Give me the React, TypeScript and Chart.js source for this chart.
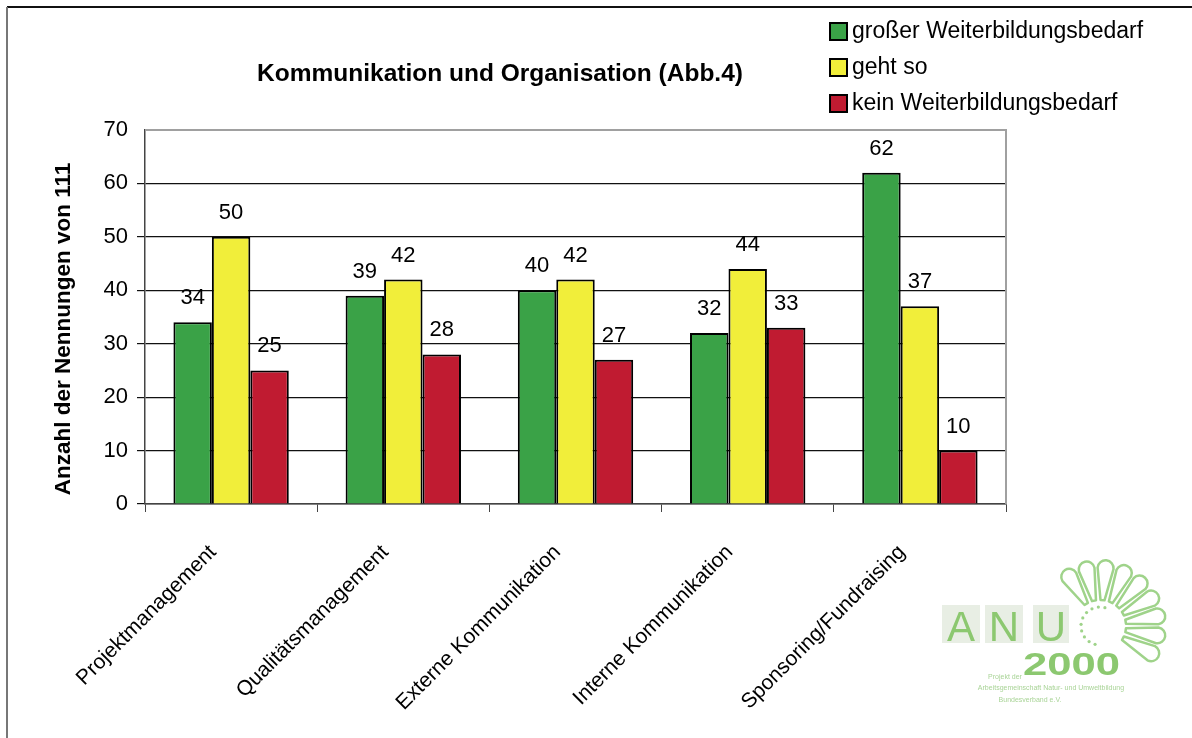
import React, { useEffect, useRef } from "react";
import { Chart, registerables } from "chart.js";

Chart.register(...registerables);

const categories = [
  "Projektmanagement",
  "Qualitätsmanagement",
  "Externe Kommunikation",
  "Interne Kommunikation",
  "Sponsoring/Fundraising",
];
const seriesNames = ["großer Weiterbildungsbedarf", "geht so", "kein Weiterbildungsbedarf"];
const grosserBedarf = [34, 39, 40, 32, 62];
const gehtSo = [50, 42, 42, 44, 37];
const keinBedarf = [25, 28, 27, 33, 10];
const seriesColors = ["#3AA247", "#F1EE3A", "#C01B31"];
const yMin = 0;
const yMax = 70;
const yStep = 10;
const chartTitle = "Kommunikation und Organisation (Abb.4)";
const yAxisTitle = "Anzahl der Nennungen von 111";

const FONT = '"Liberation Sans", Arial, sans-serif';

const decorPlugin = {
  id: "decor",
  afterDatasetsDraw(chart: any) {
    const ctx = chart.ctx as CanvasRenderingContext2D;
    const { left, right, top, bottom } = chart.chartArea;
    ctx.save();
    // plot frame (top, right)
    ctx.strokeStyle = "#a0a0a0";
    ctx.lineWidth = 2;
    ctx.beginPath();
    ctx.moveTo(left, top);
    ctx.lineTo(right, top);
    ctx.lineTo(right, bottom);
    ctx.stroke();

    // data labels
    ctx.fillStyle = "#000";
    ctx.font = `22px ${FONT}`;
    ctx.textAlign = "center";
    ctx.textBaseline = "bottom";
    chart.data.datasets.forEach((ds: any, i: number) => {
      const meta = chart.getDatasetMeta(i);
      meta.data.forEach((bar: any, j: number) => {
        ctx.fillText(String(ds.data[j]), bar.x, bar.y - 13);
      });
    });

    // title
    ctx.font = `bold 24.5px ${FONT}`;
    ctx.textBaseline = "middle";
    ctx.fillText(chartTitle, 500, 74);

    // y axis title
    ctx.save();
    ctx.translate(64, (top + bottom) / 2 + 12);
    ctx.rotate(-Math.PI / 2);
    ctx.font = `bold 22.5px ${FONT}`;
    ctx.fillText(yAxisTitle, 0, 0);
    ctx.restore();

    // legend
    const legendY = [31, 67, 103];
    ctx.textAlign = "left";
    ctx.font = `23px ${FONT}`;
    chart.data.datasets.forEach((ds: any, i: number) => {
      const cy = legendY[i];
      ctx.fillStyle = ds.backgroundColor;
      ctx.fillRect(830, cy - 8, 17, 17);
      ctx.strokeStyle = "#000";
      ctx.lineWidth = 2;
      ctx.strokeRect(830, cy - 8, 17, 17);
      ctx.fillStyle = "#000";
      ctx.fillText(ds.label, 852, cy + 1);
    });

    // outer border
    ctx.lineWidth = 2;
    ctx.strokeStyle = "#111";
    ctx.beginPath();
    ctx.moveTo(7, 7);
    ctx.lineTo(1192, 7);
    ctx.stroke();
    ctx.strokeStyle = "#777";
    ctx.beginPath();
    ctx.moveTo(7, 7);
    ctx.lineTo(7, 738);
    ctx.stroke();
    ctx.restore();
  },
};

function Logo() {
  const cx = 1100;
  const cy = 626;
  const petals: JSX.Element[] = [];
  const n = 9;
  for (let i = 0; i < n; i++) {
    const a = -122 + (i * 150) / (n - 1);
    petals.push(
      <path
        key={i}
        d="M 26 -2 L 58 -8 A 8 8 0 0 1 58 8 L 26 2 Z"
        transform={`translate(${cx},${cy}) rotate(${a})`}
        fill="none"
        stroke="#9fd38a"
        strokeWidth={2.5}
        strokeLinejoin="round"
      />
    );
  }
  const dots: JSX.Element[] = [];
  for (let i = 0; i < 10; i++) {
    const a = ((105 + i * 20) * Math.PI) / 180;
    dots.push(<circle key={i} cx={cx + 19 * Math.cos(a)} cy={cy + 19 * Math.sin(a)} r={1.6} fill="#9fd38a" />);
  }
  return (
    <svg width={1192} height={738} style={{ position: "absolute", left: 0, top: 0, pointerEvents: "none" }}>
      <rect x={942} y={605} width={38} height={38} fill="#e8eee4" />
      <rect x={985} y={605} width={38} height={38} fill="#e8eee4" />
      <rect x={1033} y={605} width={36} height={38} fill="#e8eee4" />
      <g fill="#8cc870" fontFamily={FONT} fontSize={42} textAnchor="middle">
        <text x={961} y={641}>A</text>
        <text x={1004} y={641}>N</text>
        <text x={1051} y={641}>U</text>
      </g>
      {petals}
      {dots}
      <text x={1023} y={675} fill="#8cc870" fontFamily={FONT} fontWeight="bold" fontSize={32} textLength={97} lengthAdjust="spacingAndGlyphs">
        2000
      </text>
      <g fill="#a9d497" fontFamily={FONT} fontSize={7} textAnchor="middle">
        <text x={1005} y={679}>Projekt der</text>
        <text x={1051} y={690}>Arbeitsgemeinschaft Natur- und Umweltbildung</text>
        <text x={1030} y={702}>Bundesverband e.V.</text>
      </g>
    </svg>
  );
}

export default function App() {
  const ref = useRef<HTMLCanvasElement | null>(null);
  useEffect(() => {
    document.body.style.margin = "0";
    const canvas = ref.current;
    if (!canvas) return;
    const datasets = [grosserBedarf, gehtSo, keinBedarf].map((d, i) => ({
      label: seriesNames[i],
      data: d,
      backgroundColor: seriesColors[i],
      borderColor: "#000",
      borderWidth: 2,
      categoryPercentage: 0.67,
      barPercentage: 1.0,
    }));
    const chart = new Chart(canvas, {
      type: "bar",
      data: { labels: categories, datasets },
      options: {
        responsive: false,
        animation: false,
        layout: { padding: { top: 130, right: 186, left: 8, bottom: 0 } },
        plugins: { legend: { display: false }, title: { display: false }, tooltip: { enabled: false } },
        scales: {
          x: {
            grid: { drawOnChartArea: false, drawTicks: true, tickLength: 8, color: "#444", offset: true },
            border: { color: "#444", width: 1.5 },
            ticks: {
              color: "#000",
              font: { family: FONT, size: 21 },
              minRotation: 45,
              maxRotation: 45,
              autoSkip: false,
              padding: 28,
              labelOffset: -18,
            },
            afterFit: (scale: any) => {
              scale.height = 234;
            },
          },
          y: {
            min: yMin,
            max: yMax,
            ticks: { stepSize: yStep, color: "#000", font: { family: FONT, size: 22 }, padding: 9 },
            grid: {
              color: (c: any) => (c.tick && c.tick.value === yMax ? "rgba(0,0,0,0)" : "#111"),
              lineWidth: 1.2,
              tickLength: 8,
            },
            border: { color: "#444", width: 1.5 },
            afterFit: (scale: any) => {
              scale.width = 137;
            },
          },
        },
      },
      plugins: [decorPlugin],
    });
    return () => chart.destroy();
  }, []);
  return (
    <div style={{ position: "relative", width: 1192, height: 738 }}>
      <canvas ref={ref} width={1192} height={738} />
      <Logo />
    </div>
  );
}
